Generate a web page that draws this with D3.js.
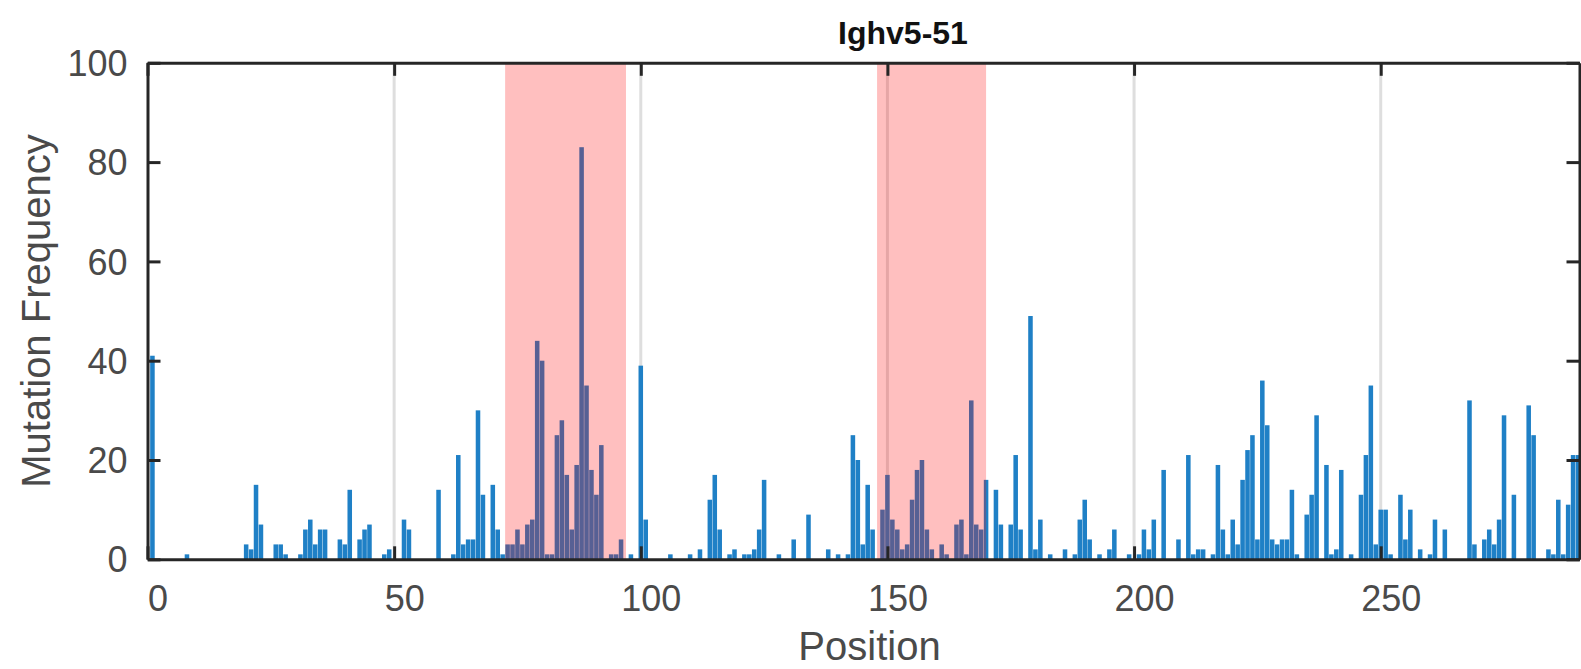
<!DOCTYPE html>
<html>
<head>
<meta charset="utf-8">
<script src="https://cdn.jsdelivr.net/npm/d3@7"></script>
<style>
  html, body { margin: 0; padding: 0; background: #fff; }
  svg { display: block; font-family: "Liberation Sans", Arial, Helvetica, sans-serif; }
</style>
</head>
<body>
<div id="chart"></div>
<script>
// mutation frequency per position (positions 1..290)
const mutationFreq = [
  41, 0, 0, 0, 0, 0, 0, 1, 0, 0,
  0, 0, 0, 0, 0, 0, 0, 0, 0, 3,
  2, 15, 7, 0, 0, 3, 3, 1, 0, 0,
  1, 6, 8, 3, 6, 6, 0, 0, 4, 3,
  14, 0, 4, 6, 7, 0, 0, 1, 2, 0,
  0, 8, 6, 0, 0, 0, 0, 0, 14, 0,
  0, 1, 21, 3, 4, 4, 30, 13, 0, 15,
  6, 1, 3, 3, 6, 3, 7, 8, 44, 40,
  1, 1, 25, 28, 17, 6, 19, 83, 35, 18,
  13, 23, 0, 1, 1, 4, 0, 1, 0, 39,
  8, 0, 0, 0, 0, 1, 0, 0, 0, 1,
  0, 2, 0, 12, 17, 6, 0, 1, 2, 0,
  1, 1, 2, 6, 16, 0, 0, 1, 0, 0,
  4, 0, 0, 9, 0, 0, 0, 2, 0, 1,
  0, 1, 25, 20, 3, 15, 6, 0, 10, 17,
  8, 6, 2, 3, 12, 18, 20, 6, 2, 0,
  3, 1, 0, 7, 8, 1, 32, 7, 6, 16,
  0, 14, 7, 0, 7, 21, 6, 0, 49, 2,
  8, 0, 1, 0, 0, 2, 0, 1, 8, 12,
  4, 0, 1, 0, 2, 6, 0, 0, 1, 0,
  1, 6, 2, 8, 0, 18, 0, 0, 4, 0,
  21, 1, 2, 2, 0, 1, 19, 6, 1, 8,
  3, 16, 22, 25, 4, 36, 27, 4, 3, 4,
  4, 14, 1, 0, 9, 13, 29, 0, 19, 1,
  2, 18, 0, 1, 0, 13, 21, 35, 3, 10,
  10, 1, 0, 13, 4, 10, 0, 2, 0, 1,
  8, 0, 6, 0, 0, 0, 0, 32, 3, 0,
  4, 6, 3, 8, 29, 0, 13, 0, 0, 31,
  25, 0, 0, 2, 1, 12, 1, 11, 21, 21
];
const positions = mutationFreq.map((d, i) => i + 1);

// highlighted regions (CDRs), in position units
const regionStarts = [72.5, 147.9];
const regionEnds = [97, 170];

const xTicks = [0, 50, 100, 150, 200, 250];
const yTicks = [0, 20, 40, 60, 80, 100];
const chartTitle = "Ighv5-51";
const xLabel = "Position";
const yLabel = "Mutation Frequency";

let width = 1581, height = 669;
let margin = ({top: 62.8, right: 1.5, bottom: 109.7, left: 147.5});

let svg = d3.select("#chart")
    .append("svg")
    .attr("width", width)
    .attr("height", height);

let x = d3.scaleLinear()
    .domain([0, 290.3])
    .range([margin.left, width - margin.right]);

let y = d3.scaleLinear()
    .domain([0, 100])
    .range([height - margin.bottom, margin.top]);

svg.append("defs").append("clipPath")
    .attr("id", "plotClip")
    .append("rect")
    .attr("x", margin.left)
    .attr("y", margin.top)
    .attr("width", width - margin.left - margin.right)
    .attr("height", height - margin.top - margin.bottom);

// vertical grid lines only
svg.append("g")
    .selectAll("line")
    .data(xTicks.filter(t => t > 0))
    .join("line")
    .attr("x1", d => x(d))
    .attr("x2", d => x(d))
    .attr("y1", y(100))
    .attr("y2", y(0))
    .attr("stroke", "#dedede")
    .attr("stroke-width", 3);

// bars
let bw = (x(1) - x(0)) * 0.92;
svg.append("g")
    .attr("clip-path", "url(#plotClip)")
    .selectAll("rect")
    .data(positions)
    .join("rect")
    .attr("x", d => x(d) - bw / 2)
    .attr("width", bw)
    .attr("y", (d, i) => y(mutationFreq[i]))
    .attr("height", (d, i) => y(0) - y(mutationFreq[i]))
    .attr("fill", "#1f80c6");

// shaded regions on top
svg.append("g")
    .selectAll("rect")
    .data(regionStarts)
    .join("rect")
    .attr("x", d => x(d))
    .attr("width", (d, i) => x(regionEnds[i]) - x(d))
    .attr("y", y(100))
    .attr("height", y(0) - y(100))
    .attr("fill", "red")
    .attr("fill-opacity", 0.25);

// axes, ticks inward
let axisColor = "#262626";
let textColor = "#4a4a4a";
let tickLen = 13;

let gx = svg.append("g")
    .attr("transform", `translate(0,${y(0)})`)
    .call(d3.axisBottom(x).tickValues(xTicks).tickSize(-tickLen).tickSizeOuter(0).tickPadding(26));
let gxTop = svg.append("g")
    .attr("transform", `translate(0,${y(100)})`)
    .call(d3.axisTop(x).tickValues(xTicks).tickSize(-tickLen).tickSizeOuter(0).tickFormat(""));
let gy = svg.append("g")
    .attr("transform", `translate(${x(0)},0)`)
    .call(d3.axisLeft(y).tickValues(yTicks).tickSize(-tickLen).tickSizeOuter(0).tickPadding(20));
let gyRight = svg.append("g")
    .attr("transform", `translate(${width - margin.right},0)`)
    .call(d3.axisRight(y).tickValues(yTicks).tickSize(-tickLen).tickSizeOuter(0).tickFormat(""));

[gx, gxTop, gy, gyRight].forEach(g => {
    g.select(".domain").attr("stroke", axisColor).attr("stroke-width", 3);
    g.selectAll(".tick line").attr("stroke", axisColor).attr("stroke-width", 3);
    g.selectAll(".tick text")
        .attr("fill", textColor)
        .style("font-size", "36px")
        .style("font-family", "'Liberation Sans', Arial, sans-serif");
});
gx.selectAll(".tick text").attr("dx", 10);
gy.selectAll(".tick text").attr("dy", "0.35em");

// labels
svg.append("text")
    .attr("x", 903)
    .attr("y", 44)
    .attr("text-anchor", "middle")
    .attr("font-weight", "bold")
    .attr("font-size", 32)
    .attr("fill", "#111")
    .text(chartTitle);

svg.append("text")
    .attr("x", (margin.left + width - margin.right) / 2 + 6)
    .attr("y", 660)
    .attr("text-anchor", "middle")
    .attr("font-size", 40)
    .attr("fill", textColor)
    .text(xLabel);

svg.append("text")
    .attr("transform", `translate(50,${(y(0) + y(100)) / 2}) rotate(-90)`)
    .attr("text-anchor", "middle")
    .attr("font-size", 40)
    .attr("fill", textColor)
    .text(yLabel);
</script>
</body>
</html>
